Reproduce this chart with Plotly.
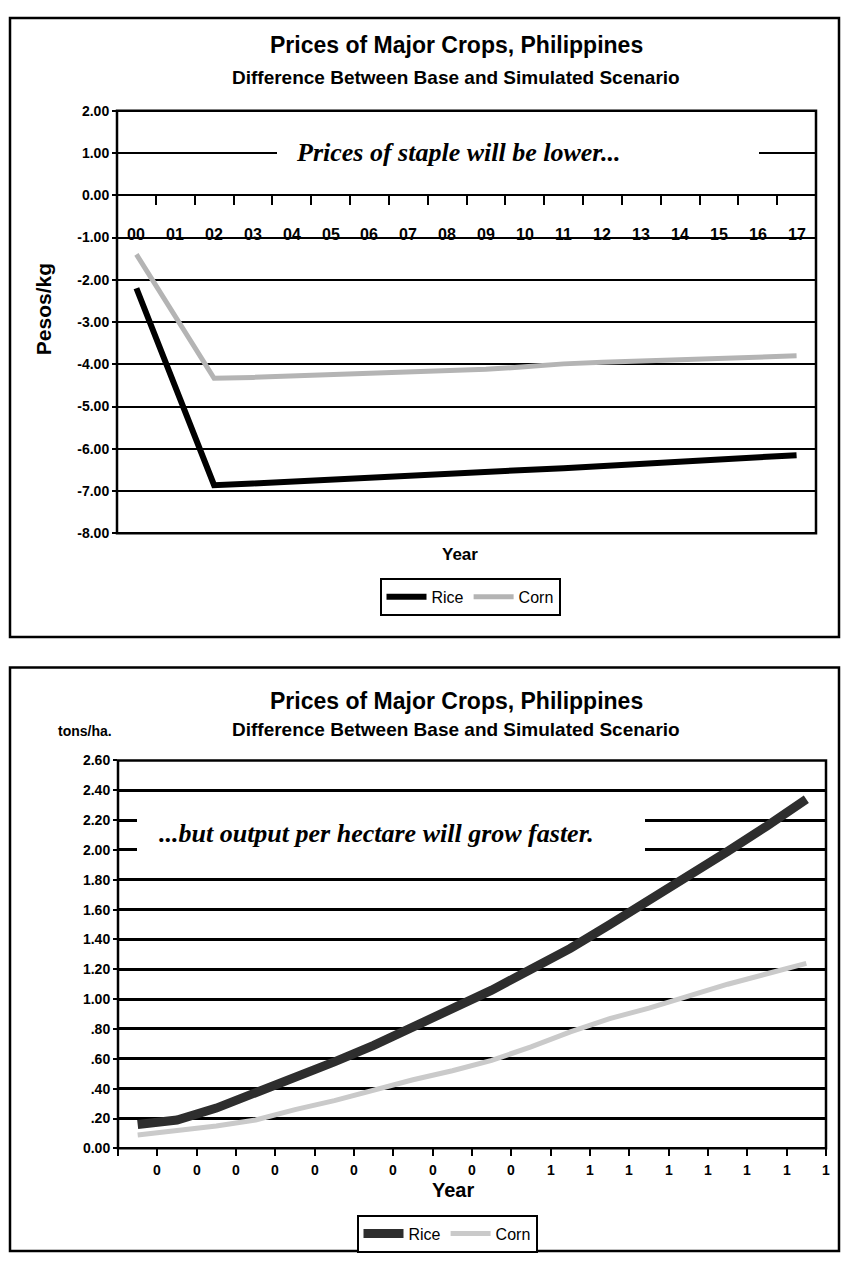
import plotly.graph_objects as go

# The page body keeps its default 8px margin, so the figure is sized to fit
# inside the 849x1270 window (no scrollbars) and positions are window pixels.
OFF = 8
W, H = 849 - 2 * OFF, 1270 - 2 * OFF


def px(x):
    return (x - OFF) / W


def py(y):
    return 1 - (y - OFF) / H


# ---------------- data ----------------
years = ["00", "01", "02", "03", "04", "05", "06", "07", "08", "09",
         "10", "11", "12", "13", "14", "15", "16", "17"]

# Chart 1: prices (Pesos/kg), difference base vs simulated
rice_price = [-2.20, -4.50, -6.86, -6.82, -6.77, -6.73, -6.68, -6.64, -6.59,
              -6.55, -6.50, -6.46, -6.41, -6.37, -6.32, -6.27, -6.21, -6.15]
corn_price = [-1.40, -2.86, -4.33, -4.31, -4.28, -4.24, -4.21, -4.19, -4.17,
              -4.12, -4.06, -3.99, -3.95, -3.92, -3.89, -3.86, -3.83, -3.80]

# Chart 2: output per hectare (tons/ha.)
rice_yield = [0.16, 0.19, 0.27, 0.37, 0.47, 0.58, 0.69, 0.81, 0.93,
              1.06, 1.20, 1.34, 1.50, 1.66, 1.82, 1.99, 2.16, 2.34]
corn_yield = [0.09, 0.12, 0.15, 0.19, 0.26, 0.32, 0.39, 0.46, 0.52,
              0.59, 0.68, 0.78, 0.87, 0.94, 1.02, 1.10, 1.17, 1.24]

price_ticks = [2, 1, 0, -1, -2, -3, -4, -5, -6, -7, -8]
price_ticktext = ["2.00", "1.00", "0.00", "-1.00", "-2.00", "-3.00", "-4.00",
                  "-5.00", "-6.00", "-7.00", "-8.00"]
yield_ticks = [0, 0.2, 0.4, 0.6, 0.8, 1.0, 1.2, 1.4, 1.6, 1.8, 2.0, 2.2, 2.4, 2.6]
yield_ticktext = ["0.00", ".20", ".40", ".60", ".80", "1.00", "1.20", "1.40",
                  "1.60", "1.80", "2.00", "2.20", "2.40", "2.60"]
year_short = [y[0] for y in years]

SANS = "Liberation Sans, Arial, sans-serif"
SERIF = "Liberation Serif, Times New Roman, serif"

# ---------------- geometry (window pixels) ----------------
top_dom_x = [px(117), px(816)]
top_dom_y = [py(532), py(104)]
bot_dom_x = [px(118), px(826)]
bot_dom_y = [py(1155), py(762)]

zero_pos = top_dom_y[0] + (0 - (-8)) / 10 * (top_dom_y[1] - top_dom_y[0])

fig = go.Figure()

fig.add_trace(go.Scatter(x=years, y=rice_price, name="Rice", mode="lines",
                         line=dict(color="#000000", width=6),
                         xaxis="x", yaxis="y", legend="legend"))
fig.add_trace(go.Scatter(x=years, y=corn_price, name="Corn", mode="lines",
                         line=dict(color="#b4b4b4", width=5),
                         xaxis="x", yaxis="y", legend="legend"))
fig.add_trace(go.Scatter(x=years, y=rice_yield, name="Rice", mode="lines",
                         line=dict(color="#2e2e2e", width=9),
                         xaxis="x2", yaxis="y2", legend="legend2"))
fig.add_trace(go.Scatter(x=years, y=corn_yield, name="Corn", mode="lines",
                         line=dict(color="#cacaca", width=5),
                         xaxis="x2", yaxis="y2", legend="legend2"))

axis_font = dict(family=SANS, size=14, color="black", weight="bold")

fig.update_layout(
    width=W, height=H,
    margin=dict(l=0, r=0, t=0, b=0),
    paper_bgcolor="white", plot_bgcolor="white",
    xaxis=dict(domain=top_dom_x, type="category", range=[-0.5, 17.5],
               anchor="free", position=zero_pos,
               showgrid=False, zeroline=False, showline=False,
               ticks="outside", ticklen=9, tickwidth=2, tickcolor="black",
               tickson="boundaries", showticklabels=False),
    yaxis=dict(domain=top_dom_y, anchor="x", range=[-8, 2],
               tickvals=price_ticks, ticktext=price_ticktext,
               showgrid=True, gridcolor="black", gridwidth=2,
               zeroline=False, showline=False,
               ticks="outside", ticklen=4, tickwidth=2, tickcolor="black",
               tickfont=axis_font),
    xaxis2=dict(domain=bot_dom_x, type="category", range=[-0.5, 17.5],
                anchor="y2", showgrid=False, zeroline=False,
                showline=False, ticks="outside", ticklen=7, tickwidth=2,
                tickcolor="black", tickson="boundaries", showticklabels=False),
    yaxis2=dict(domain=bot_dom_y, anchor="x2", range=[0, 2.6],
                tickvals=yield_ticks, ticktext=yield_ticktext,
                showgrid=True, gridcolor="black", gridwidth=2.5,
                zeroline=False, showline=False,
                ticks="outside", ticklen=4, tickwidth=2, tickcolor="black",
                tickfont=axis_font),
    legend=dict(orientation="h", x=px(470), y=py(577), xanchor="center",
                yanchor="top", bordercolor="black", borderwidth=2,
                bgcolor="white", font=dict(family=SANS, size=16, color="black"),
                itemwidth=40, tracegroupgap=0),
    legend2=dict(orientation="h", x=px(447), y=py(1222), xanchor="center",
                 yanchor="top", bordercolor="black", borderwidth=2,
                 bgcolor="white", font=dict(family=SANS, size=16, color="black"),
                 itemwidth=40, tracegroupgap=0),
)

shapes = []
# outer frames of the two charts
shapes.append(dict(type="rect", xref="paper", yref="paper",
                   x0=px(10), x1=px(839), y0=py(637), y1=py(10),
                   line=dict(color="black", width=2.5), fillcolor="rgba(0,0,0,0)",
                   layer="below"))
shapes.append(dict(type="rect", xref="paper", yref="paper",
                   x0=px(10), x1=px(839), y0=py(1259), y1=py(668),
                   line=dict(color="black", width=2.5), fillcolor="rgba(0,0,0,0)",
                   layer="below"))
# plot area borders
shapes.append(dict(type="rect", xref="x domain", yref="y domain",
                   x0=0, x1=1, y0=0, y1=1,
                   line=dict(color="black", width=2.5), layer="above"))
shapes.append(dict(type="rect", xref="x2 domain", yref="y2 domain",
                   x0=0, x1=1, y0=0, y1=1,
                   line=dict(color="black", width=2.5), layer="above"))
# white boxes behind the in-chart captions
shapes.append(dict(type="rect", xref="paper", yref="paper",
                   x0=px(277), x1=px(759), y0=py(162), y1=py(130),
                   line=dict(width=0), fillcolor="white", layer="above"))
shapes.append(dict(type="rect", xref="paper", yref="paper",
                   x0=px(137), x1=px(645), y0=py(868), y1=py(806),
                   line=dict(width=0), fillcolor="white", layer="above"))
fig.update_layout(shapes=shapes)


def label(text, x, y, size, family=SANS, angle=0):
    return dict(text=text, xref="paper", yref="paper", x=px(x), y=py(y),
                xanchor="center", yanchor="middle", showarrow=False,
                textangle=angle, font=dict(family=family, size=size, color="black"))


ann = []
# titles
ann.append(label("<b>Prices of Major Crops, Philippines</b>", 456, 37, 23))
ann.append(label("<b>Difference Between Base and Simulated Scenario</b>", 456, 70, 19))
ann.append(label("<b>Prices of Major Crops, Philippines</b>", 456, 702, 23))
ann.append(label("<b>Difference Between Base and Simulated Scenario</b>", 456, 731, 19))
# axis titles
ann.append(label("<b>Pesos/kg</b>", 43, 305, 21, angle=-90))
ann.append(label("<b>tons/ha.</b>", 85, 732, 14))
ann.append(label("<b>Year</b>", 460, 553, 17))
ann.append(label("<b>Year</b>", 453, 1197, 20))
# captions
ann.append(label("<b><i>Prices of staple will be lower...</i></b>", 459, 146, 26, family=SERIF))
ann.append(label("<b><i>...but output per hectare will grow faster.</i></b>", 376, 836, 26,
                 family=SERIF))
# top chart year labels sitting on the -1.00 line
for y_lab in years:
    ann.append(dict(text="<b>" + y_lab + "</b>", xref="x", yref="y", x=y_lab, y=-1,
                    xanchor="center", yanchor="middle", yshift=3, showarrow=False,
                    font=dict(family=SANS, size=16, color="black")))
# bottom chart labels at the right boundary of each category
for i, lab in enumerate(year_short):
    ann.append(dict(text="<b>" + lab + "</b>", xref="x2", yref="y2", x=i + 0.5, y=0,
                    xanchor="center", yanchor="middle", yshift=-22, showarrow=False,
                    font=dict(family=SANS, size=14, color="black")))
fig.update_layout(annotations=ann)

fig.write_html("out.html")
